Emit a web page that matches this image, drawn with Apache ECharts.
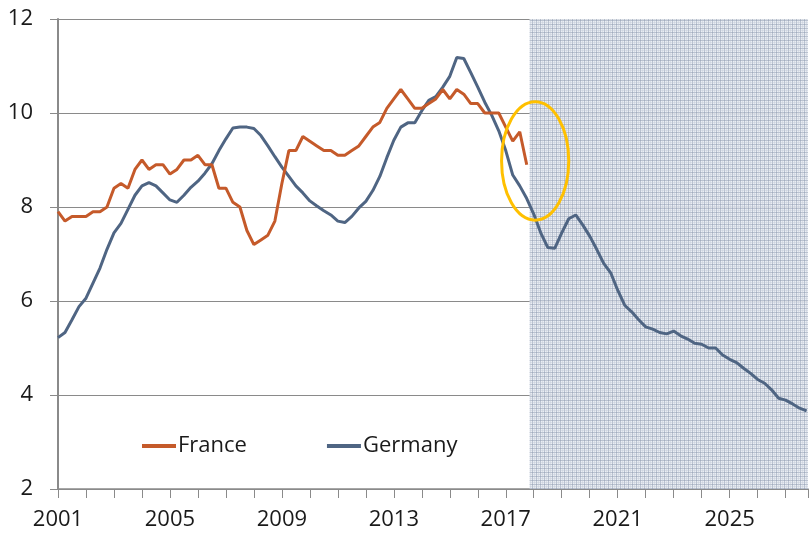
<!DOCTYPE html>
<html>
<head>
<meta charset="utf-8">
<title>France / Germany</title>
<script src="https://cdn.jsdelivr.net/npm/echarts@6/dist/echarts.min.js"></script>
<style>
	html, body { margin: 0; padding: 0; background: #fff; }
	#chart { width: 811px; height: 534px; }
</style>
</head>
<body>
<div id="chart"></div>
<script>
// quarterly series, first point = 2001 Q1
var startYear = 2001;
var endYear = 2027.8;
var forecastStart = 2017.85;

var yTicks = [2, 4, 6, 8, 10, 12];

var france = [7.9, 7.7, 7.8, 7.8, 7.8, 7.9, 7.9, 8.0, 8.4, 8.5,
	8.4, 8.8, 9.0, 8.8, 8.9, 8.9, 8.7, 8.8, 9.0, 9.0,
	9.1, 8.9, 8.9, 8.4, 8.4, 8.1, 8.0, 7.5, 7.2, 7.3,
	7.4, 7.7, 8.5, 9.2, 9.2, 9.5, 9.4, 9.3, 9.2, 9.2,
	9.1, 9.1, 9.2, 9.3, 9.5, 9.7, 9.8, 10.1, 10.3, 10.5,
	10.3, 10.1, 10.1, 10.2, 10.3, 10.5, 10.3, 10.5, 10.4, 10.2,
	10.2, 10.0, 10.0, 10.0, 9.7, 9.4, 9.6, 8.9];

var germany = [5.22, 5.33, 5.6, 5.88, 6.06, 6.38, 6.7, 7.1, 7.45, 7.65,
	7.95, 8.25, 8.45, 8.52, 8.45, 8.3, 8.15, 8.1, 8.25, 8.42,
	8.55, 8.72, 8.92, 9.2, 9.45, 9.68, 9.7, 9.7, 9.67, 9.52,
	9.3, 9.07, 8.85, 8.65, 8.45, 8.3, 8.13, 8.02, 7.92, 7.83,
	7.7, 7.67, 7.8, 7.98, 8.12, 8.35, 8.65, 9.05, 9.42, 9.7,
	9.79, 9.79, 10.05, 10.27, 10.35, 10.55, 10.78, 11.18, 11.16, 10.86,
	10.55, 10.23, 9.95, 9.62, 9.2, 8.68, 8.45, 8.18, 7.85, 7.45,
	7.14, 7.12, 7.45, 7.75, 7.83, 7.62, 7.38, 7.1, 6.8, 6.6,
	6.23, 5.91, 5.77, 5.6, 5.45, 5.4, 5.33, 5.3, 5.36, 5.26,
	5.19, 5.1, 5.08, 5.0, 5.0, 4.85, 4.76, 4.69, 4.57, 4.46,
	4.33, 4.25, 4.11, 3.93, 3.89, 3.81, 3.72, 3.66];

// ellipse around the 2017/2018 break (centre and radii in data units)
var ringCenter = [2018.05, 8.98];
var ringRadius = [1.2, 1.26];

var font = '"Open Sans", "Liberation Sans", sans-serif';
var gridGray = '#8a8a8a';

/**
 * quarters -> [year, value]
 */
function toPairs(arr) {
	var out = [];
	for (var i = 0; i < arr.length; i++) {
		out.push([startYear + i / 4, arr[i]]);
	}
	return out;
}

/**
 * hatched fill for the forecast zone
 */
function hatch() {
	var c = document.createElement('canvas');
	c.width = 4;
	c.height = 4;
	var ctx = c.getContext('2d');
	ctx.fillStyle = 'rgba(232,236,242,0.9)';
	ctx.fillRect(0, 0, 4, 4);
	ctx.fillStyle = 'rgba(140,152,174,0.5)';
	ctx.fillRect(0, 0, 4, 1);
	ctx.fillRect(0, 0, 1, 4);
	ctx.fillStyle = 'rgba(185,194,208,0.35)';
	ctx.fillRect(0, 2, 4, 1);
	ctx.fillRect(2, 0, 1, 4);
	return c;
}

var chart = echarts.init(document.getElementById('chart'), null, { renderer: 'canvas' });

var option = {
	animation: false,
	backgroundColor: '#fff',
	textStyle: { fontFamily: font },
	grid: { left: 58, right: 0, top: 19, bottom: 45 },
	legend: {
		left: 137,
		top: 430,
		icon: 'rect',
		itemWidth: 34,
		itemHeight: 4,
		itemGap: 80,
		textStyle: { fontFamily: font, fontSize: 22, color: '#1a1a1a', padding: [0, 0, 0, -3] },
		data: ['France', 'Germany']
	},
	xAxis: {
		type: 'value',
		min: startYear,
		max: endYear,
		interval: 1,
		axisLine: { lineStyle: { color: gridGray, width: 1.5 } },
		axisTick: { show: true, length: 9, lineStyle: { color: gridGray } },
		splitLine: { show: false },
		axisLabel: {
			fontFamily: font,
			fontSize: 22,
			color: '#1a1a1a',
			margin: 20,
			formatter: function(v) {
				return (v - startYear) % 4 == 0 ? String(v) : '';
			}
		}
	},
	yAxis: {
		type: 'value',
		min: yTicks[0],
		max: yTicks[yTicks.length - 1],
		interval: 2,
		axisLine: { show: true, lineStyle: { color: gridGray, width: 2 } },
		axisTick: { show: true, length: 8, lineStyle: { color: gridGray } },
		splitLine: { lineStyle: { color: gridGray, width: 1 } },
		axisLabel: { fontFamily: font, fontSize: 22, color: '#1a1a1a', margin: 25 }
	},
	series: [{
		name: 'France',
		type: 'line',
		data: toPairs(france),
		showSymbol: false,
		color: '#c55a2a',
		lineStyle: { width: 3, color: '#c55a2a' },
		z: 4
	}, {
		name: 'Germany',
		type: 'line',
		data: toPairs(germany),
		showSymbol: false,
		color: '#4f6583',
		lineStyle: { width: 3, color: '#4f6583' },
		z: 3,
		markArea: {
			silent: true,
			itemStyle: { color: { image: hatch(), repeat: 'repeat' } },
			data: [[{ xAxis: forecastStart }, { xAxis: endYear }]]
		}
	}]
};

chart.setOption(option);

// yellow ring drawn in pixels from the data position
var c0 = chart.convertToPixel({ gridIndex: 0 }, ringCenter);
var c1 = chart.convertToPixel({ gridIndex: 0 }, [ringCenter[0] + ringRadius[0], ringCenter[1] + ringRadius[1]]);
chart.setOption({
	graphic: [{
		type: 'ellipse',
		z: 10,
		shape: { cx: c0[0], cy: c0[1], rx: Math.abs(c1[0] - c0[0]), ry: Math.abs(c1[1] - c0[1]) },
		style: { fill: 'none', stroke: '#ffc000', lineWidth: 3 }
	}]
});
</script>
</body>
</html>
